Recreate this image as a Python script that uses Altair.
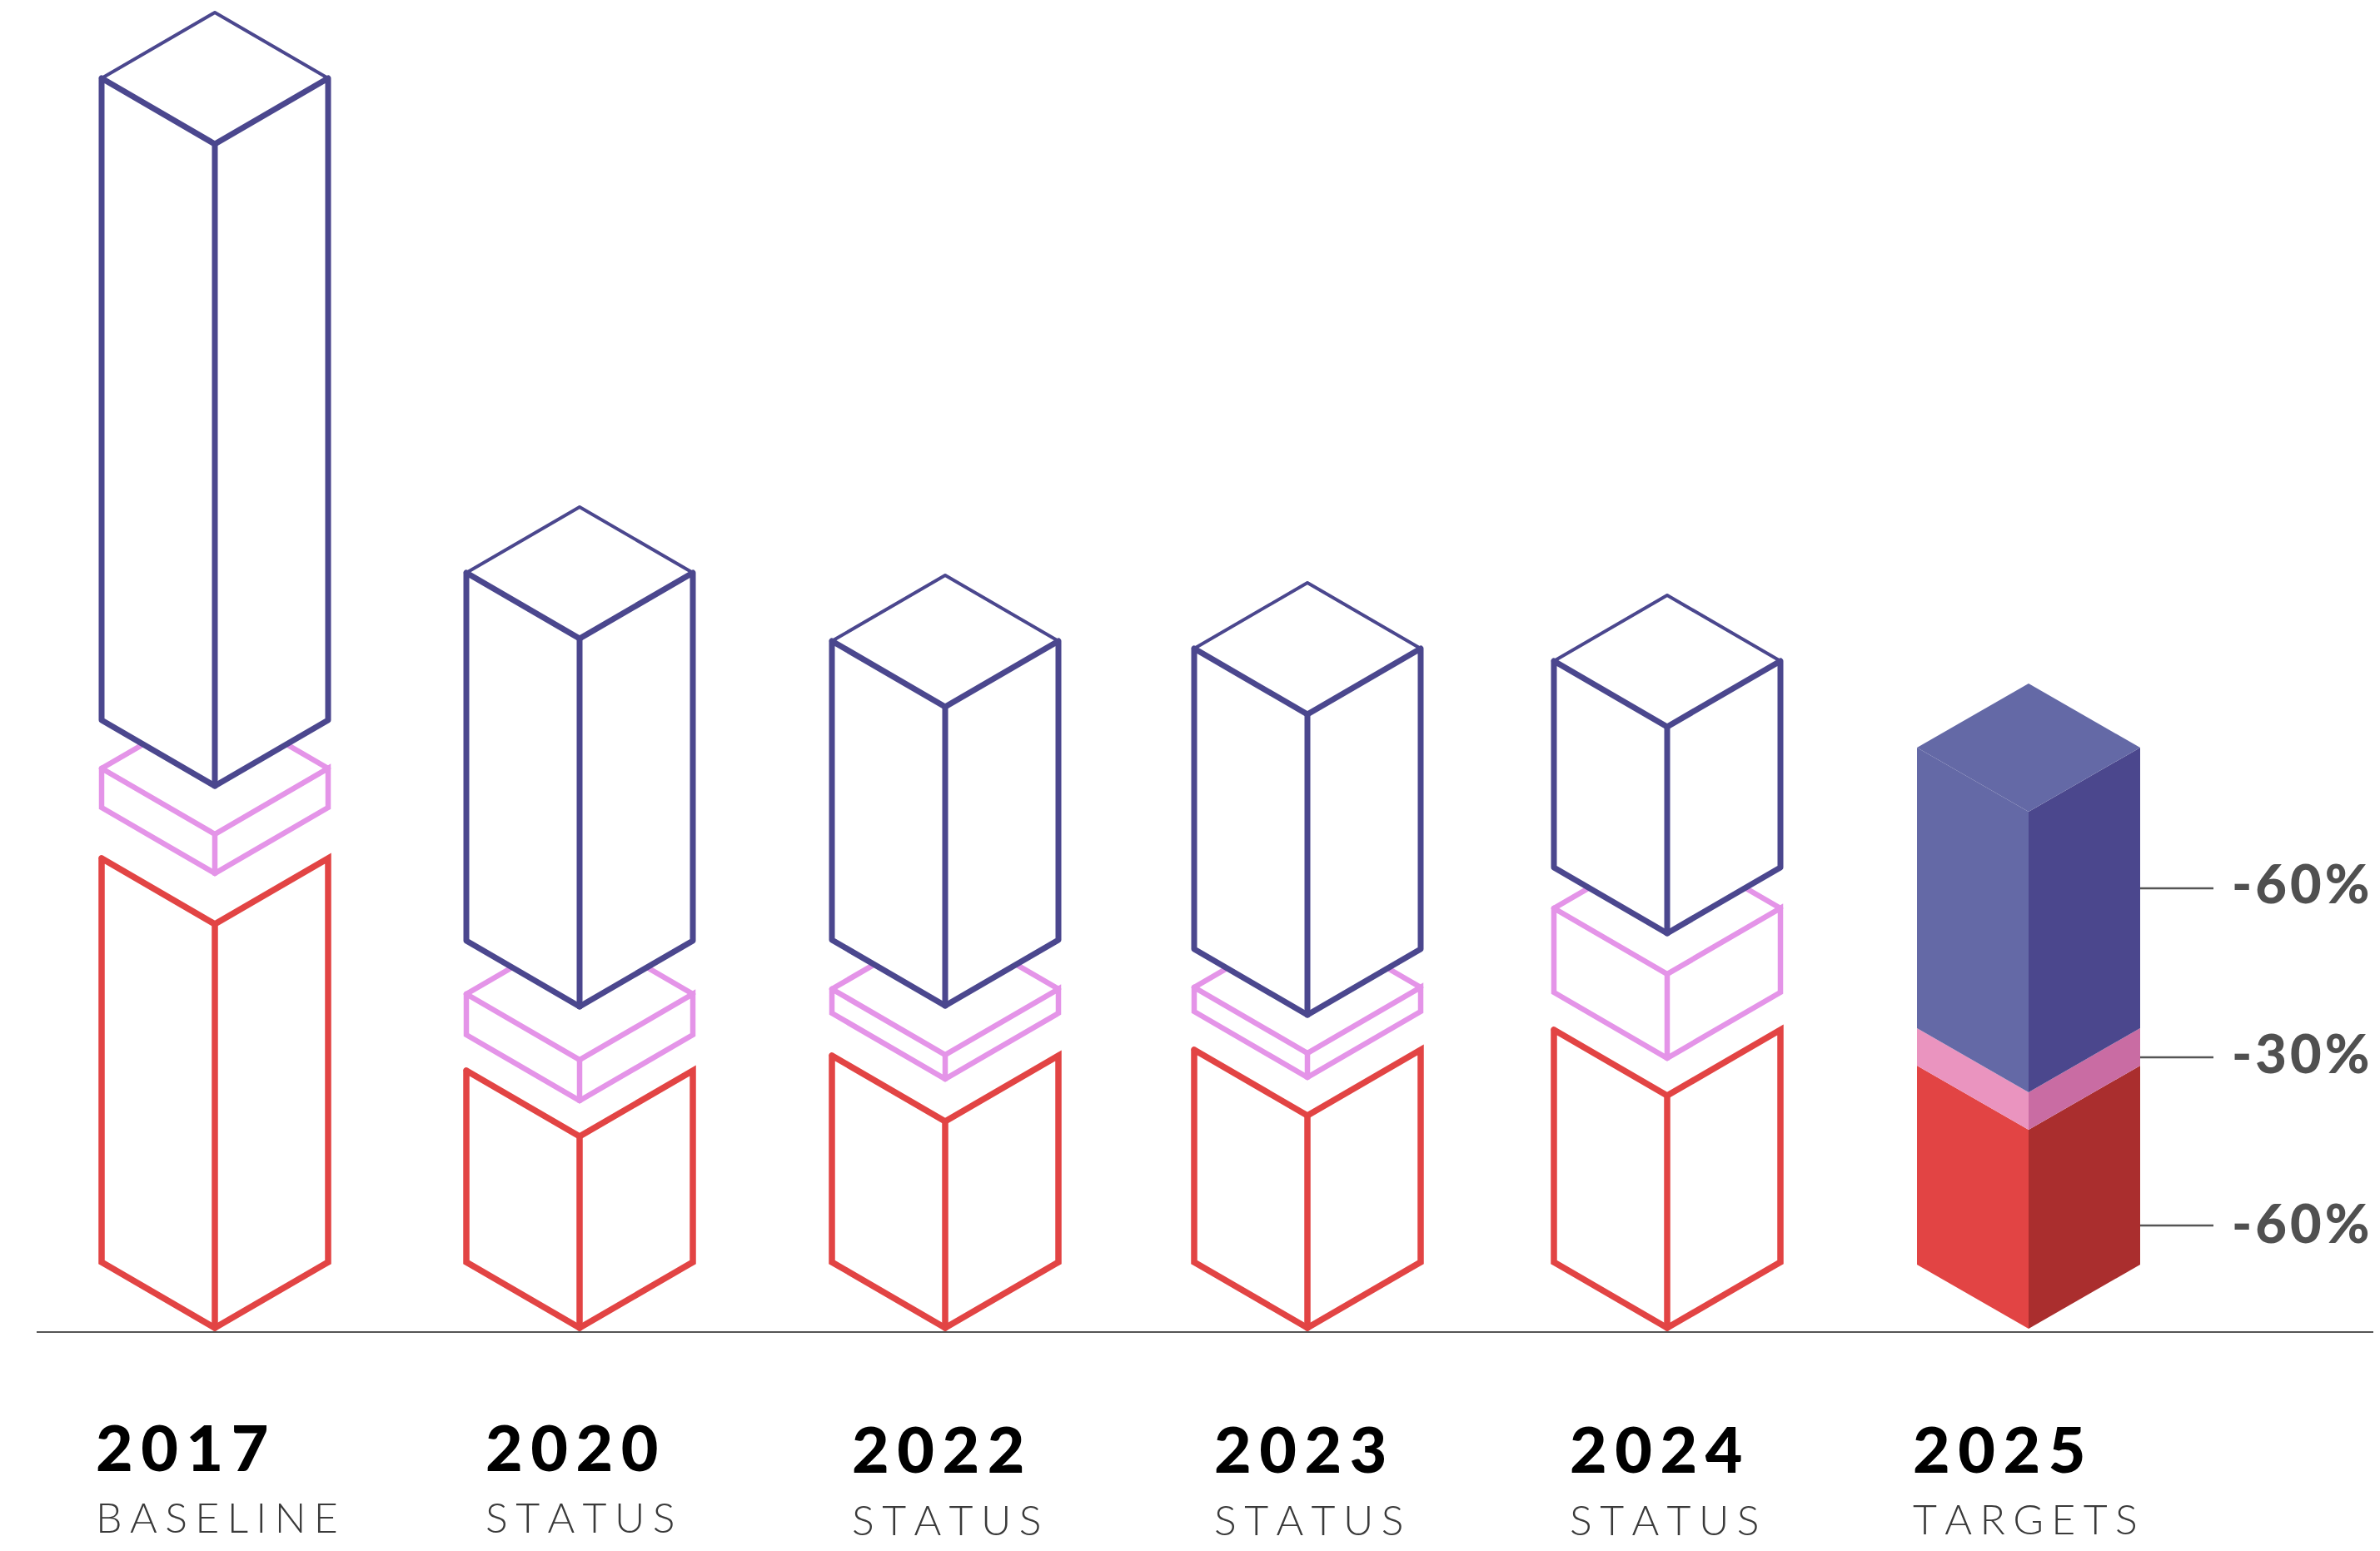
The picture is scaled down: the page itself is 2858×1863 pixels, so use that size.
import altair as alt
import pandas as pd

# ---- chart values (in image pixels from the top) ----
years = ["2017", "2020", "2022", "2023", "2024"]
subtitles = ["BASELINE", "STATUS", "STATUS", "STATUS", "STATUS"]
centers = [258, 696, 1135, 1570, 2002]
blue_top = [173, 767, 849, 858, 873]
blue_bottom = [944, 1209, 1208, 1219, 1121]
pink_top = [1002, 1273, 1267, 1265, 1170]
pink_bottom = [1049, 1322, 1296, 1294, 1271]
red_top = [1110, 1365, 1347, 1340, 1316]
ground_corner = 1595

target_year = "2025"
target_subtitle = "TARGETS"
target_center = 2436
target_blue_top = 975
target_blue_bottom = 1312
target_pink_bottom = 1357
target_ground_corner = 1596

pct_labels = ["-60%", "-30%", "-60%"]
pct_y = [1085, 1289, 1493]
pct_line_y = [1067, 1270, 1472]

year_x = [115, 583, 1023, 1458, 1885, 2297]
year_y = [1767, 1767, 1769, 1769, 1769, 1769]
sub_y = [1841, 1841, 1844, 1844, 1844, 1843]

baseline_y = 1600
baseline_x = [44, 2850]
half_w = 136
target_half_w = 134
rise = 79

BLUE, PINK, RED = "#4b478e", "#e494e8", "#e24444"
THIN = "\u2009"
HAIR = "\u200a"

# ---- tables built from the values above ----
lines, faces = [], []
gid = 0


def polyline(points, color, width):
    global gid
    gid += 1
    for i, (x, y) in enumerate(points):
        lines.append(dict(g=gid, o=i, x=x, y=y, c=color, w=width))


def face(points, color):
    global gid
    gid += 1
    for x, top, bot in points:
        faces.append(dict(g=gid, x=x, y=top, y2=bot, c=color))


def prism_faces(c, hw, r, top, bottom, left, right, cap=None):
    # top / bottom are the y of the front vertical edge
    face([(c - hw, top - r, bottom - r), (c, top, bottom)], left)
    face([(c, top, bottom), (c + hw, top - r, bottom - r)], right)
    if cap:
        face([(c - hw, top - r, top - r), (c, top - 2 * r, top), (c + hw, top - r, top - r)], cap)


for i, c in enumerate(centers):
    L, R = c - half_w, c + half_w
    # red, open topped
    polyline([(L, red_top[i] - rise), (c, red_top[i]), (R, red_top[i] - rise),
              (R, ground_corner - rise), (c, ground_corner), (L, ground_corner - rise),
              (L, red_top[i] - rise)], RED, 7.5)
    polyline([(c, red_top[i]), (c, ground_corner)], RED, 7.5)
    # pink slab
    t, b = pink_top[i], pink_bottom[i]
    polyline([(L, t - rise), (c, t - 2 * rise), (R, t - rise)], PINK, 6.5)
    polyline([(L, t - rise), (c, t), (R, t - rise), (R, b - rise), (c, b),
              (L, b - rise), (L, t - rise)], PINK, 6.5)
    polyline([(c, t), (c, b)], PINK, 6.5)

blue_lines_start = len(lines)
for i, c in enumerate(centers):
    L, R = c - half_w, c + half_w
    t, b = blue_top[i], blue_bottom[i]
    polyline([(L, t - rise), (c, t - 2 * rise), (R, t - rise)], BLUE, 4)
    polyline([(L, t - rise), (c, t), (R, t - rise), (R, b - rise), (c, b),
              (L, b - rise), (L, t - rise)], BLUE, 7)
    polyline([(c, t), (c, b)], BLUE, 7)

white_faces = []
for i, c in enumerate(centers):
    faces_before = len(faces)
    prism_faces(c, half_w, rise, blue_top[i], blue_bottom[i], "#ffffff", "#ffffff", "#ffffff")
    white_faces += faces[faces_before:]
    del faces[faces_before:]

tc, thw, tr = target_center, target_half_w, 77
prism_faces(tc, thw, tr, target_pink_bottom, target_ground_corner, "#e24444", "#aa2e2e")
prism_faces(tc, thw, tr, target_blue_bottom, target_pink_bottom, "#ea94bf", "#c96ca3")
prism_faces(tc, thw, tr, target_blue_top, target_blue_bottom, "#6469a6", "#4b478d", "#6469a6")

lower_lines = pd.DataFrame(lines[:blue_lines_start])
upper_lines = pd.DataFrame(lines[blue_lines_start:])
white_df = pd.DataFrame(white_faces)
face_df = pd.DataFrame(faces)

all_years = years + [target_year]
all_subs = subtitles + [target_subtitle]
year_df = pd.DataFrame(dict(x=year_x, y=year_y, t=[THIN.join(s) for s in all_years]))
sub_df = pd.DataFrame(dict(x=year_x, y=sub_y, t=[(THIN + HAIR).join(s) for s in all_subs]))
pct_df = pd.DataFrame(dict(x=[2680] * 3, y=pct_y, t=[HAIR.join(s) for s in pct_labels]))
rules_df = pd.DataFrame(
    [dict(x=baseline_x[0], x2=baseline_x[1], y=baseline_y, w=2)]
    + [dict(x=tc + thw, x2=2658, y=v, w=2.5) for v in pct_line_y]
)

W, H = 2842, 1847
xs = alt.X("x:Q", axis=None, scale=alt.Scale(domain=[8, 8 + W], nice=False, zero=False))
ys = alt.Y("y:Q", axis=None, scale=alt.Scale(domain=[8 + H, 8], nice=False, zero=False))


def line_layer(df, join):
    return alt.Chart(df).mark_line(strokeJoin=join, strokeCap="round", strokeMiterLimit=10).encode(
        x=xs, y=ys, detail="g:N", order="o:Q",
        color=alt.Color("c:N", scale=None),
        strokeWidth=alt.StrokeWidth("w:Q", scale=None),
    )


def area_layer(df):
    return alt.Chart(df).mark_area(opacity=1).encode(
        x=xs, y=ys, y2="y2:Q", detail="g:N",
        color=alt.Color("c:N", scale=None),
    )


def text_layer(df, **kw):
    return alt.Chart(df).mark_text(align="left", baseline="alphabetic", **kw).encode(
        x=xs, y=ys, text="t:N"
    )


rules = alt.Chart(rules_df).mark_rule(color="#555555").encode(
    x=xs, x2="x2:Q", y=ys, strokeWidth=alt.StrokeWidth("w:Q", scale=None)
)

chart = alt.layer(
    rules,
    line_layer(lower_lines, "miter"),
    area_layer(white_df),
    line_layer(upper_lines, "round"),
    area_layer(face_df),
    text_layer(year_df, font="Lato", fontWeight=900, fontSize=77, color="#000000"),
    text_layer(sub_df, font="Lato", fontWeight=300, fontSize=50, color="#3a3a3a"),
    text_layer(pct_df, font="Lato", fontWeight=900, fontSize=65, color="#505050"),
).properties(
    width=W, height=H, padding=0, autosize=alt.AutoSizeParams(type="none")
).configure_view(strokeWidth=0)

chart.save("out.html", embed_options={"renderer": "svg", "actions": False})
